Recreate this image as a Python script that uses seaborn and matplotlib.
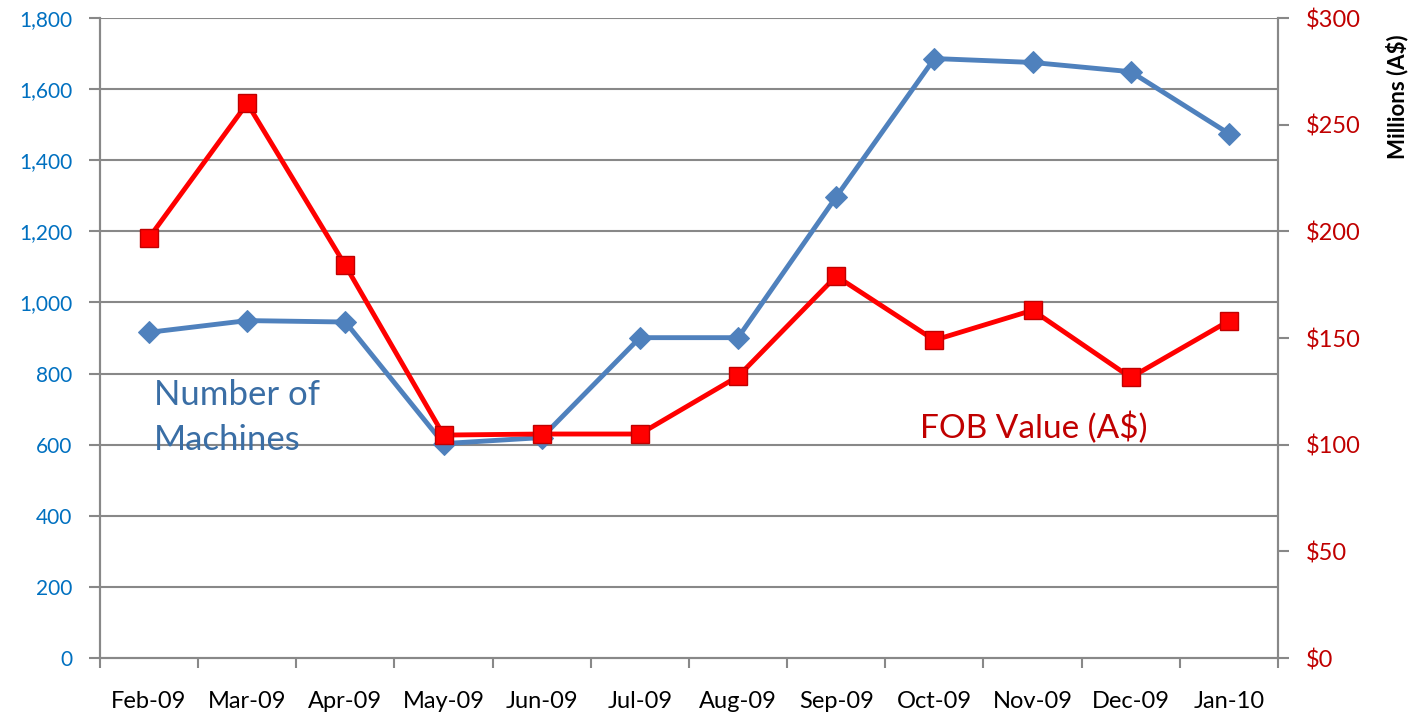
import matplotlib
matplotlib.use("Agg")
import matplotlib.pyplot as plt
import seaborn as sns
import pandas as pd
import numpy as np
from matplotlib.ticker import FuncFormatter, FixedLocator

months = ["Feb-09", "Mar-09", "Apr-09", "May-09", "Jun-09", "Jul-09",
          "Aug-09", "Sep-09", "Oct-09", "Nov-09", "Dec-09", "Jan-10"]
machines = [916, 949, 945, 603, 620, 901, 901, 1297, 1686, 1675, 1649, 1475]
fob_value = [197, 260, 184, 104.5, 105, 105, 132, 179, 149, 163, 131.5, 158]

sns.set_theme(style="white")
plt.rcParams['font.family'] = ['Lato', 'DejaVu Sans']

df = pd.DataFrame({"x": np.arange(len(months)), "machines": machines, "fob": fob_value})

fig = plt.figure(figsize=(14.22, 7.15), dpi=100)
ax = fig.add_axes([0.0703, 0.0797, 0.8284, 0.8951])
ax2 = ax.twinx()

grid_c = "#888888"
blue = "#4F81BD"
red = "#FF0000"

for yv in range(200, 1801, 200):
    ax.axhline(yv, color=grid_c, lw=1.5, zorder=0)

sns.lineplot(data=df, x="x", y="machines", ax=ax, color=blue, lw=3.5,
             marker="D", markersize=11, markeredgecolor=blue, zorder=3)
sns.lineplot(data=df, x="x", y="fob", ax=ax2, color=red, lw=3.5,
             marker="s", markersize=13, markeredgecolor="#C00000", markeredgewidth=1, zorder=3)

ax.set_xlim(-0.5, 11.5)
ax.set_ylim(0, 1800)
ax2.set_ylim(0, 300)

ax.set_xticks(np.arange(12))
ax.set_xticklabels(months, fontsize=17, color="black")
ax.xaxis.set_minor_locator(FixedLocator(np.arange(-0.5, 12, 1)))
ax.tick_params(axis="x", which="major", length=0, pad=24)
ax.tick_params(axis="x", which="minor", length=7, width=1.5, color=grid_c, direction="out", bottom=True)

ax.set_yticks(range(0, 1801, 200))
ax.yaxis.set_major_formatter(FuncFormatter(lambda v, p: f"{int(v):,}"))
ax.tick_params(axis="y", length=8, width=1.5, color=grid_c, labelsize=15,
               labelcolor="#0070C0", pad=12, left=True)

ax2.set_yticks(range(0, 301, 50))
ax2.yaxis.set_major_formatter(FuncFormatter(lambda v, p: f"${int(v)}"))
ax2.tick_params(axis="y", length=8, width=1.5, color=grid_c, labelsize=17,
                labelcolor="#C00000", pad=12, right=True)
ax2.set_ylabel("")

for a in (ax, ax2):
    a.set_xlabel("")
    a.spines["top"].set_visible(False)
    for s in ("left", "right", "bottom"):
        a.spines[s].set_color(grid_c)
        a.spines[s].set_linewidth(1.5)
ax.set_ylabel("")

fig.text(1397 / 1422, 1 - 97 / 715, "Millions (A$)", fontsize=16, fontweight="bold",
         color="black", rotation=90, ha="center", va="center")

ax.text(0.05, 711, "Number of", fontsize=25, color="#3A6EA5", va="baseline", ha="left")
ax.text(0.05, 585, "Machines", fontsize=25, color="#3A6EA5", va="baseline", ha="left")
ax2.text(7.85, 108, "FOB Value (A$)", fontsize=24, color="#C00000",
         va="center", ha="left")

fig.savefig("out.png", dpi=100)
